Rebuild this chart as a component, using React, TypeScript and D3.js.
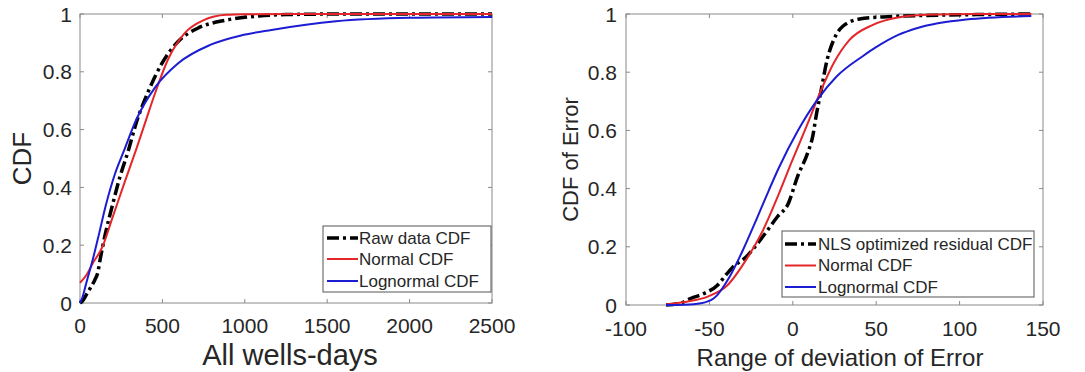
import React from "react";
import * as d3 from "d3";

// ---------- Data ----------
// Left panel: All wells-days
const leftRawX = [0, 18, 40, 66, 90, 106, 125, 154, 194, 242, 292, 340, 418, 497, 594, 712, 888, 1084, 1250, 1600, 2000, 2500];
const leftRawY = [0, 0.009, 0.03, 0.055, 0.08, 0.101, 0.159, 0.24, 0.332, 0.436, 0.525, 0.621, 0.737, 0.829, 0.904, 0.95, 0.979, 0.993, 0.998, 1.0, 1.0, 1.0];
const leftNormX = [0, 40, 76, 135, 194, 272, 340, 399, 458, 536, 634, 751, 888, 1000, 1300, 1800, 2500];
const leftNormY = [0.07, 0.098, 0.136, 0.193, 0.29, 0.42, 0.53, 0.63, 0.73, 0.845, 0.933, 0.979, 0.997, 0.999, 1.0, 1.0, 1.0];
const leftLogX = [0, 15, 37, 76, 116, 154, 213, 262, 340, 458, 594, 790, 986, 1162, 1553, 2003, 2500];
const leftLogY = [0, 0.02, 0.067, 0.147, 0.24, 0.332, 0.448, 0.52, 0.633, 0.748, 0.829, 0.893, 0.927, 0.945, 0.975, 0.987, 0.99];

// Right panel: Range of deviation of Error
const rightRawX = [-76, -68, -61, -53, -45, -40, -36, -28, -22, -16, -9, -3, 3, 9, 12, 14, 16.7, 20.6, 25.4, 30, 40, 54, 80, 110, 143];
const rightRawY = [0, 0.005, 0.023, 0.04, 0.069, 0.104, 0.13, 0.165, 0.205, 0.25, 0.305, 0.345, 0.444, 0.524, 0.581, 0.65, 0.729, 0.843, 0.922, 0.958, 0.983, 0.99, 0.995, 0.998, 1.0];
const rightNormX = [-76, -70, -63, -51, -39.5, -28, -18, -8.5, -0.8, 9, 16.7, 24.4, 34, 47.7, 63, 80, 110, 143];
const rightNormY = [0.002, 0.006, 0.012, 0.029, 0.066, 0.155, 0.255, 0.38, 0.49, 0.625, 0.735, 0.83, 0.911, 0.962, 0.988, 0.997, 1.0, 1.0];
const rightLogX = [-76, -65, -55, -47.3, -37.6, -29.8, -22.1, -14.3, -8.5, 3.1, 14.8, 26.4, 41.9, 49.7, 63.2, 74.8, 103.9, 143];
const rightLogY = [0, 0.001, 0.006, 0.023, 0.1, 0.19, 0.29, 0.395, 0.47, 0.6, 0.706, 0.786, 0.855, 0.885, 0.928, 0.952, 0.981, 0.993];

const leftXTicks = [0, 500, 1000, 1500, 2000, 2500];
const rightXTicks = [-100, -50, 0, 50, 100, 150];
const yTicks = [0, 0.2, 0.4, 0.6, 0.8, 1];

const leftLegend = ["Raw data CDF", "Normal CDF", "Lognormal CDF"];
const rightLegend = ["NLS optimized residual CDF", "Normal CDF", "Lognormal CDF"];

const FONT = "'Liberation Sans', Arial, Helvetica, sans-serif";
const TEXT = "#262626";
const AXIS = "#8a8a8a";
const RED = "#e4262a";
const BLUE = "#1c1cd2";
const BLACK = "#000000";
const DASH = "12,4,3,4";

type Panel = {
  x0: number; x1: number; y0: number; y1: number;
  domain: [number, number];
  xTicks: number[];
  series: { xs: number[]; ys: number[]; color: string; width: number; dash?: string }[];
  xTitle: string; xTitleSize: number; xTitleX: number; xTitleY: number;
  yTitle: string; yTitleSize: number; yTitleX: number;
  tickSize: number; yLabelX: number; xLabelY: number;
  legend: { labels: string[]; x0: number; x1: number; y0: number; y1: number; rows: number[]; lineX0: number; lineX1: number; textX: number; size: number };
};

function PanelView({ p }: { p: Panel }) {
  const x = d3.scaleLinear().domain(p.domain).range([p.x0, p.x1]);
  const y = d3.scaleLinear().domain([0, 1]).range([p.y1, p.y0]);
  const line = d3.line<[number, number]>().x((d) => x(d[0])).y((d) => y(d[1])).curve(d3.curveMonotoneX);
  const tl = 4;
  return (
    <g>
      <rect x={p.x0} y={p.y0} width={p.x1 - p.x0} height={p.y1 - p.y0} fill="white" stroke={AXIS} strokeWidth={1} />
      {p.xTicks.map((t) => (
        <g key={"xt" + t}>
          <line x1={x(t)} x2={x(t)} y1={p.y1} y2={p.y1 - tl} stroke={AXIS} />
          <line x1={x(t)} x2={x(t)} y1={p.y0} y2={p.y0 + tl} stroke={AXIS} />
          <text x={x(t)} y={p.xLabelY} fontSize={p.tickSize} fill={TEXT} textAnchor="middle" dominantBaseline="central" fontFamily={FONT}>{t}</text>
        </g>
      ))}
      {yTicks.map((t) => (
        <g key={"yt" + t}>
          <line x1={p.x0} x2={p.x0 + tl} y1={y(t)} y2={y(t)} stroke={AXIS} />
          <line x1={p.x1} x2={p.x1 - tl} y1={y(t)} y2={y(t)} stroke={AXIS} />
          <text x={p.yLabelX} y={y(t)} fontSize={p.tickSize} fill={TEXT} textAnchor="end" dominantBaseline="central" fontFamily={FONT}>{String(t)}</text>
        </g>
      ))}
      {p.series.map((s, i) => (
        <path key={i} d={line(s.xs.map((v, j) => [v, s.ys[j]] as [number, number])) || ""} fill="none" stroke={s.color} strokeWidth={s.width} strokeDasharray={s.dash} strokeLinejoin="round" />
      ))}
      <text x={p.xTitleX} y={p.xTitleY} fontSize={p.xTitleSize} fill={TEXT} textAnchor="middle" dominantBaseline="central" fontFamily={FONT}>{p.xTitle}</text>
      <text transform={`translate(${p.yTitleX},${(p.y0 + p.y1) / 2}) rotate(-90)`} fontSize={p.yTitleSize} fill={TEXT} textAnchor="middle" dominantBaseline="central" fontFamily={FONT}>{p.yTitle}</text>
      <rect x={p.legend.x0} y={p.legend.y0} width={p.legend.x1 - p.legend.x0} height={p.legend.y1 - p.legend.y0} fill="white" stroke="#555" strokeWidth={1} />
      {p.legend.labels.map((lab, i) => (
        <g key={"lg" + i}>
          <line x1={p.legend.lineX0} x2={p.legend.lineX1} y1={p.legend.rows[i]} y2={p.legend.rows[i]} stroke={p.series[i].color} strokeWidth={p.series[i].width} strokeDasharray={p.series[i].dash} />
          <text x={p.legend.textX} y={p.legend.rows[i]} fontSize={p.legend.size} fill={TEXT} dominantBaseline="central" fontFamily={FONT}>{lab}</text>
        </g>
      ))}
    </g>
  );
}

export default function App() {
  const left: Panel = {
    x0: 80, x1: 492, y0: 14, y1: 303,
    domain: [0, 2500],
    xTicks: leftXTicks,
    series: [
      { xs: leftRawX, ys: leftRawY, color: BLACK, width: 3.5, dash: DASH },
      { xs: leftNormX, ys: leftNormY, color: RED, width: 2 },
      { xs: leftLogX, ys: leftLogY, color: BLUE, width: 2 },
    ],
    xTitle: "All wells-days", xTitleSize: 29, xTitleX: 290, xTitleY: 355,
    yTitle: "CDF", yTitleSize: 26, yTitleX: 22,
    tickSize: 21, yLabelX: 72, xLabelY: 325,
    legend: { labels: leftLegend, x0: 323, x1: 491, y0: 226, y1: 292, rows: [238, 259, 281], lineX0: 327, lineX1: 358, textX: 359, size: 17 },
  };
  const right: Panel = {
    x0: 626, x1: 1043, y0: 14, y1: 305,
    domain: [-100, 150],
    xTicks: rightXTicks,
    series: [
      { xs: rightRawX, ys: rightRawY, color: BLACK, width: 3.5, dash: DASH },
      { xs: rightNormX, ys: rightNormY, color: RED, width: 2 },
      { xs: rightLogX, ys: rightLogY, color: BLUE, width: 2 },
    ],
    xTitle: "Range of deviation of Error", xTitleSize: 24, xTitleX: 840, xTitleY: 357,
    yTitle: "CDF of Error", yTitleSize: 22, yTitleX: 570,
    tickSize: 21, yLabelX: 617, xLabelY: 328,
    legend: { labels: rightLegend, x0: 782, x1: 1034, y0: 231, y1: 297, rows: [244, 265.5, 287], lineX0: 785, lineX1: 816, textX: 818, size: 17 },
  };
  return (
    <svg width={1085} height={372} style={{ position: "absolute", left: 0, top: 0, background: "white" }}>
      <rect x={0} y={0} width={1085} height={372} fill="white" />
      <PanelView p={left} />
      <PanelView p={right} />
    </svg>
  );
}
